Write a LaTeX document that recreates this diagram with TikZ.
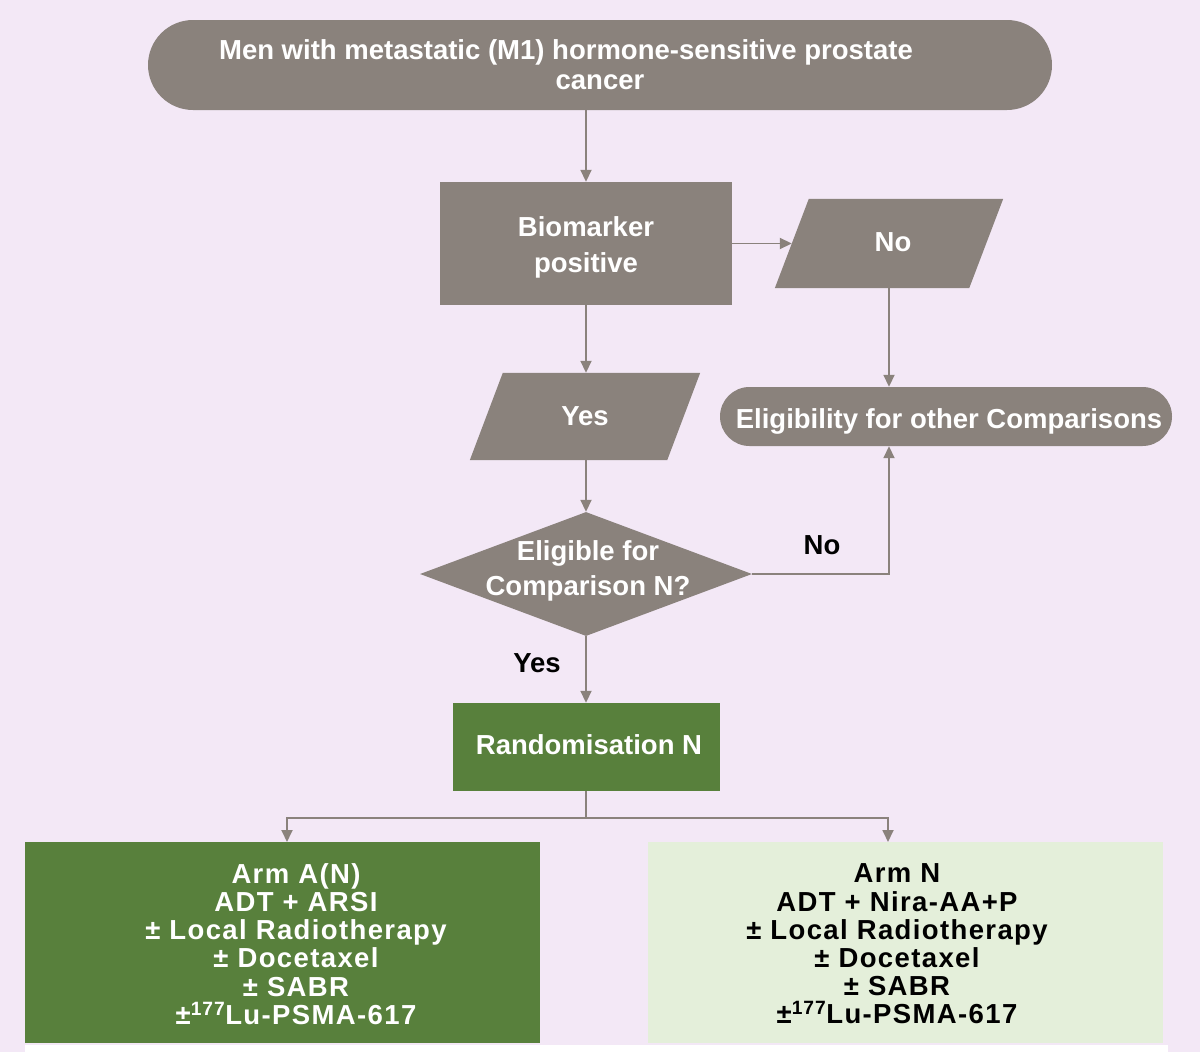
\documentclass[tikz,border=0pt]{standalone}
\usepackage{fontspec}
\setmainfont{Liberation Sans}
\newfontfamily\armfont{Liberation Sans}[LetterSpace=5]
\usetikzlibrary{shapes.geometric,arrows.meta,calc}
\pgfdeclarelayer{bgl}
\pgfdeclarelayer{shp}
\pgfsetlayers{bgl,shp,main}
\definecolor{bg}{RGB}{243,232,246}
\definecolor{greybox}{RGB}{138,130,124}
\definecolor{darkgreen}{RGB}{88,128,60}
\definecolor{lightgreen}{RGB}{228,239,218}
\newcommand{\shiftdown}[2]{\raisebox{-#1}[\height][\depth]{#2}}
\begin{document}
\begin{tikzpicture}[x=1pt,y=-1pt,
  conn/.style={draw=greybox, line width=1.8pt},
  arr/.style={conn, -{Triangle[width=11pt,length=12pt]}},
  txt/.style={font=\fontsize{27.5}{30}\selectfont\bfseries, align=center, inner sep=2pt},
  greyshape/.style={fill=greybox, text=white, txt},
  para/.style={txt, text=white, inner sep=0pt},
  armtxt/.style={font=\armfont\fontsize{27.5}{28.2}\selectfont\bfseries, align=center, inner sep=0pt}
]
\useasboundingbox (0,0) rectangle (1200,1052);
\begin{pgfonlayer}{bgl}
  \fill[bg] (0,0) rectangle (1200,1052);
  \fill[white] (25,1045) rectangle (1168,1052);
\end{pgfonlayer}

% top terminal
\node[greyshape, rounded corners=45pt, minimum width=904pt, minimum height=90pt]
  (top) at (600,65) {Men with metastatic (M1) hormone-sensitive prostate\hspace*{68pt}\\cancer};

% biomarker
\node[greyshape, minimum width=292pt, minimum height=123pt,
  font=\fontsize{27.5}{36}\selectfont\bfseries]
  (bio) at (586,243.5) {\shiftdown{4pt}{Biomarker}\\\shiftdown{4pt}{positive}};

% No parallelogram
\node[para, minimum width=194pt, minimum height=89pt] (no) at (889,243.5) {\hspace*{8pt}\shiftdown{-1pt}{No}};
\begin{pgfonlayer}{shp}
  \fill[greybox] ($(no.north west)+(17,0)$) -- ($(no.north east)+(17,0)$)
    -- ($(no.south east)+(-17,0)$) -- ($(no.south west)+(-17,0)$) -- cycle;
\end{pgfonlayer}

% Yes parallelogram
\node[para, minimum width=197pt, minimum height=87pt] (yes) at (585,416.5) {Yes};
\begin{pgfonlayer}{shp}
  \fill[greybox] ($(yes.north west)+(16.5,0)$) -- ($(yes.north east)+(16.5,0)$)
    -- ($(yes.south east)+(-16.5,0)$) -- ($(yes.south west)+(-16.5,0)$) -- cycle;
\end{pgfonlayer}

% eligibility terminal
\node[greyshape, rounded corners=29.5pt, minimum width=452pt, minimum height=59pt]
  (elig) at (946,416.5) {\hspace*{6pt}\shiftdown{5pt}{Eligibility for other Comparisons}};

% diamond
\node[diamond, fill=greybox, minimum width=332pt, minimum height=124pt, inner sep=0pt]
  (dia) at (586,574) {};
\node[txt, text=white, font=\fontsize{27.5}{35}\selectfont\bfseries]
  (diatext) at (588,571) {Eligible for\\Comparison N?};

% labels
\node[txt] (nolab) at (822,545) {No};
\node[txt] (yeslab) at (537,663) {Yes};

% randomisation
\node[fill=darkgreen, text=white, txt, minimum width=267pt, minimum height=88pt]
  (rand) at (586,747) {\hspace*{6pt}\shiftdown{-2pt}{Randomisation N}};

% arms
\node[fill=darkgreen, minimum width=515pt, minimum height=201pt, inner sep=0pt]
  (armA) at (282.5,942.5) {};
\node[armtxt, text=white] (armAtext) at (296,944)
  {Arm A(N)\\ADT + ARSI\\± Local Radiotherapy\\± Docetaxel\\± SABR\\±\textsuperscript{177}Lu-PSMA-617};
\node[fill=lightgreen, minimum width=515pt, minimum height=201pt, inner sep=0pt]
  (armN) at (905.5,942.5) {};
\node[armtxt, text=black] (armNtext) at (897,944)
  {Arm N\\ADT + Nira-AA+P\\± Local Radiotherapy\\± Docetaxel\\± SABR\\±\textsuperscript{177}Lu-PSMA-617};

% connectors
\draw[arr] (top.south -| bio.north) -- (bio.north);
\draw[arr] (bio.east) -- (no.west);
\draw[arr] (no.south) -- (no.south |- elig.north);
\draw[arr] (bio.south) -- (bio.south |- yes.north);
\draw[arr] (yes.south -| dia.north) -- (dia.north);
\draw[arr] (dia.east) -| (no.south |- elig.south);
\draw[arr] (dia.south) -- (dia.south |- rand.north);
\coordinate (split) at (586,818);
\coordinate (inA) at (287,842);
\coordinate (inN) at (888,842);
\draw[conn] (rand.south) -- (split);
\draw[arr] (split) -| (inA);
\draw[arr] (split) -| (inN);
\end{tikzpicture}
\end{document}
